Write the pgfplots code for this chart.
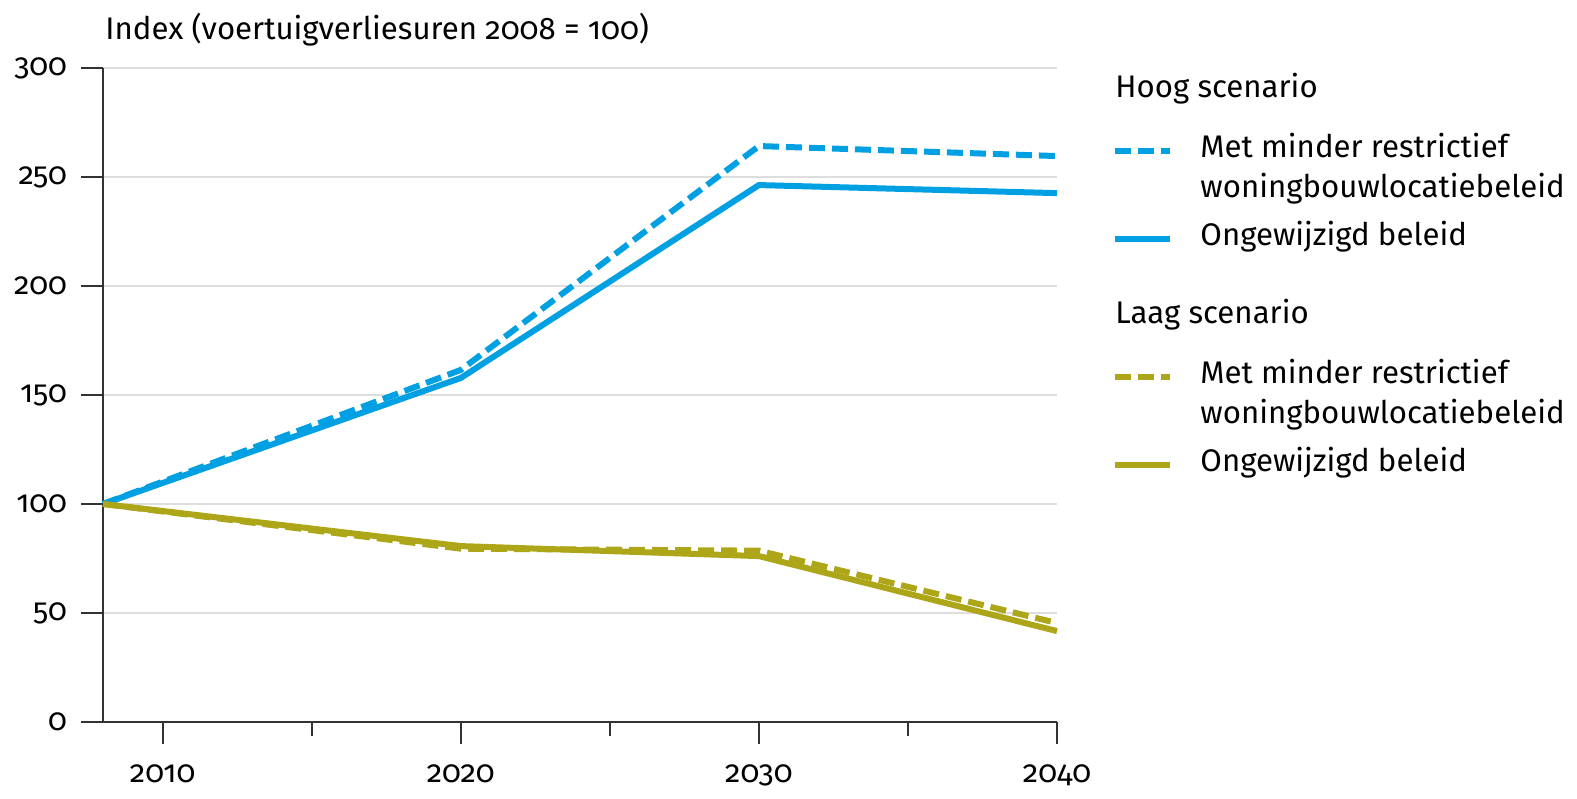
\documentclass[border=0pt]{standalone}
\usepackage{fontspec}
\setmainfont[Numbers=OldStyle]{Fira Sans}
\usepackage{pgfplots}
\pgfplotsset{compat=1.18}
\definecolor{hblue}{RGB}{0,160,226}
\definecolor{lolive}{RGB}{172,166,24}
\definecolor{axgray}{RGB}{50,50,50}
\definecolor{gridgray}{RGB}{222,222,222}
\begin{document}
\begin{tikzpicture}
\useasboundingbox (-51.5pt,-38pt) rectangle (737pt,361pt);
\begin{axis}[
  at={(0,0)}, anchor=south west,
  scale only axis, width=477pt, height=327pt,
  xmin=2008, xmax=2040, ymin=0, ymax=300,
  axis x line*=bottom, axis y line*=left,
  axis line style={axgray, line width=1pt, -},
  xtick={2010,2020,2030,2040},
  minor xtick={2015,2025,2035},
  ytick={0,50,100,150,200,250,300},
  tick align=outside,
  tick style={axgray, line width=1pt},
  major tick length=11pt, minor tick length=7pt,
  ymajorgrids, grid style={gridgray, line width=0.7pt},
  xticklabel style={font=\fontsize{15.5}{18}\selectfont, yshift=-7pt},
  yticklabel style={font=\fontsize{15.5}{18}\selectfont, xshift=-3.5pt},
  /pgf/number format/assume math mode=true,
  /pgf/number format/1000 sep={},
  clip=false,
]
\addplot[hblue, line width=3pt, dash pattern=on 8pt off 3.5pt] coordinates {(2008,100) (2020,161.5) (2030,264.2) (2040,259.6)};
\addplot[hblue, line width=3pt] coordinates {(2008,100) (2020,157.8) (2030,246.3) (2040,242.6)};
\addplot[lolive, line width=3pt, dash pattern=on 8pt off 3.5pt] coordinates {(2008,100) (2020,79.5) (2030,78.6) (2040,45.4)};
\addplot[lolive, line width=3pt] coordinates {(2008,100) (2020,80.7) (2030,76.1) (2040,41.7)};
\end{axis}
\begin{scope}[every node/.style={font=\fontsize{15.6}{18}\selectfont, inner sep=0pt}]
\node[anchor=mid west] at (1pt,344pt) {Index (voertuigverliesuren 2008 = 100)};
\node[anchor=mid west] at (506pt,315pt) {Hoog scenario};
\draw[hblue, line width=3pt, dash pattern=on 8pt off 3.5pt] (506pt,285.5pt) -- (533.5pt,285.5pt);
\node[anchor=mid west] at (548.5pt,285pt) {Met minder restrictief};
\node[anchor=mid west] at (548.5pt,265pt) {woningbouwlocatiebeleid};
\draw[hblue, line width=3pt] (506pt,241.5pt) -- (533.5pt,241.5pt);
\node[anchor=mid west] at (548.5pt,241pt) {Ongewijzigd beleid};
\node[anchor=mid west] at (506pt,202pt) {Laag scenario};
\draw[lolive, line width=3pt, dash pattern=on 8pt off 3.5pt] (506pt,172.5pt) -- (533.5pt,172.5pt);
\node[anchor=mid west] at (548.5pt,172pt) {Met minder restrictief};
\node[anchor=mid west] at (548.5pt,152pt) {woningbouwlocatiebeleid};
\draw[lolive, line width=3pt] (506pt,128.5pt) -- (533.5pt,128.5pt);
\node[anchor=mid west] at (548.5pt,128pt) {Ongewijzigd beleid};
\end{scope}
\end{tikzpicture}
\end{document}
